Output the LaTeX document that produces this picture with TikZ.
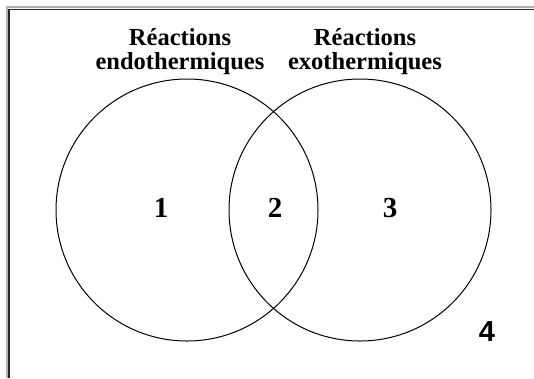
\documentclass[tikz,border=0pt]{standalone}
\usepackage{fontspec}
\setmainfont{Liberation Serif}
\newfontfamily\digitsans{Liberation Sans}
\usetikzlibrary{positioning}

\begin{document}
\begin{tikzpicture}[
  x=1pt, y=-1pt,
  set/.style={circle, draw, line width=1pt, minimum size=262pt, inner sep=0pt},
  title/.style={align=center, inner sep=0pt, anchor=base,
                font=\bfseries\fontsize{24.5}{24}\selectfont},
  region/.style={inner sep=0pt, font=\bfseries\fontsize{29}{29}\selectfont}
]
  \useasboundingbox (0,0) rectangle (534,378);

  % Frame
  \draw[line width=2.4pt, black!30] (7,378) -- (7,7) -- (534,7);
  \draw[line width=1.1pt, black!85] (9,378) -- (9,9.5) -- (534,9.5);

  % Sets
  \node[set] (endo) at (187,210) {};
  \node[set] (exo)  at (360,210) {};

  % Titles (anchored at the baseline of the second line)
  \node[title] (endolabel) at (180,69) {Réactions\\endothermiques};
  \node[title] (exolabel)  at (365,69) {Réactions\\exothermiques};

  % Regions
  \node[region] (one)   at (161,208) {1};
  \node[region] (two)   at (275,208) {2};
  \node[region] (three) at (390,208) {3};
  \node[region, font=\digitsans\bfseries\fontsize{29}{29}\selectfont] (four) at (487,332) {4};
\end{tikzpicture}
\end{document}
